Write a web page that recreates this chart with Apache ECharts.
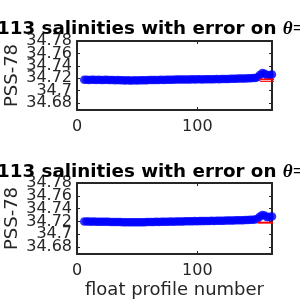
<!DOCTYPE html>
<html><head><meta charset="utf-8">
<script src="https://cdn.jsdelivr.net/npm/echarts@6/dist/echarts.min.js"></script>
<style>html,body{margin:0;padding:0;background:#fff}#c{width:300px;height:300px}</style>
</head><body><div id="c"></div>
<script>
// ---- data ----
var profiles = [6,8,10,12,14,16,18,20,22,24,26,28,30,32,34,36,
  38,40,42,44,46,48,50,52,54,56,58,60,
  62,64,66,68,70,72,74,76,78,80,82,84,86,88,90,
  92,94,96,98,100,102,104,106,108,110,112,114,116,118,120,122,124,126,128,130,
  132,134,136,138,140,142,144,146,148,
  150,152,154,156,158,160,162];
var salTop = [34.7178,34.7176,34.7174,34.7177,34.7175,34.7173,34.7176,34.7174,34.7172,34.7175,34.7173,34.7171,34.7172,34.7170,34.7171,34.7169,
  34.7168,34.7166,34.7167,34.7165,34.7166,34.7168,34.7166,34.7167,34.7169,34.7168,34.7170,34.7171,
  34.7172,34.7173,34.7172,34.7174,34.7175,34.7174,34.7176,34.7177,34.7176,34.7178,34.7179,34.7180,34.7179,34.7181,34.7180,
  34.7182,34.7181,34.7183,34.7182,34.7184,34.7183,34.7182,34.7184,34.7185,34.7184,34.7186,34.7185,34.7187,34.7186,34.7188,34.7189,34.7188,34.7190,34.7191,34.7192,
  34.7194,34.7195,34.7196,34.7197,34.7198,34.7200,34.7201,34.7203,34.7206,
  34.7215,34.7255,34.7285,34.7275,34.7245,34.7255,34.7260];
var salBottom = [34.7199,34.7197,34.7198,34.7196,34.7197,34.7195,34.7196,34.7194,34.7195,34.7193,34.7194,34.7192,34.7191,34.7192,34.7190,34.7189,
  34.7188,34.7187,34.7186,34.7187,34.7185,34.7186,34.7185,34.7187,34.7186,34.7188,34.7189,34.7190,
  34.7191,34.7192,34.7193,34.7192,34.7194,34.7195,34.7194,34.7196,34.7197,34.7196,34.7198,34.7199,34.7198,34.7200,34.7201,
  34.7202,34.7201,34.7203,34.7204,34.7203,34.7205,34.7204,34.7206,34.7207,34.7206,34.7208,34.7207,34.7209,34.7210,34.7209,34.7211,34.7212,34.7213,34.7214,34.7215,
  34.7216,34.7217,34.7218,34.7219,34.7220,34.7222,34.7224,34.7226,34.7229,
  34.7240,34.7275,34.7300,34.7292,34.7265,34.7272,34.7278];
var redXTop = [152, 166];
var redTopA = [34.7185, 34.7185];
var redTopB = [34.7152, 34.7152];
var redXBottom = [150, 166];
var redBottom = [34.7180, 34.7180];
var yTicks = [34.68, 34.70, 34.72, 34.74, 34.76, 34.78];
var yLabelsA = [34.68, 34.72, 34.76];
var yLabelsB = [34.70, 34.74, 34.78];
var xTicks = [0, 100];
var yRange = [34.669, 34.78];
var xRange = [0, 162];
var titleText = '113 salinities with error on ';
var titleTheta = 'θ=';
var yName = 'PSS-78';
var xName = 'float profile number';

function pairs(xs, ys){ return xs.map(function(x,i){return [x, ys[i]];}); }

var AX = '#262626', FF = 'DejaVu Sans';
function xAx(g, pos, labels, name){
  return {type:'value', gridIndex:g, position:pos, min:xRange[0], max:xRange[1],
    axisLine:{show:true, onZero:false, lineStyle:{color:AX, width:2}},
    axisTick:{show:true, inside:true, length:3, customValues:xTicks, lineStyle:{color:AX, width:1}},
    axisLabel:{show:labels, customValues:xTicks, fontSize:16, color:AX, fontFamily:FF, margin:9,
      hideOverlap:false, interval:0, showMinLabel:true, showMaxLabel:true},
    splitLine:{show:false},
    name: name||'', nameLocation:'middle', nameGap:27, nameMoveOverlap:false,
    nameTextStyle:{fontSize:18, color:AX, fontFamily:FF}};
}
function yAx(g, pos, labelVals, name, showLine){
  return {type:'value', gridIndex:g, position:pos, min:yRange[0], max:yRange[1],
    axisLine:{show:showLine, onZero:false, lineStyle:{color:AX, width:2}},
    axisTick:{show:showLine, inside:true, length:3, customValues:yTicks, lineStyle:{color:AX, width:1}},
    axisLabel:{show:!!labelVals, customValues:labelVals||yTicks, fontSize:16, color:AX, fontFamily:FF, margin:5,
      hideOverlap:false, interval:0, showMinLabel:true, showMaxLabel:true,
      formatter:function(v){return String(+(+v).toFixed(2));}},
    splitLine:{show:false},
    name: name||'', nameLocation:'middle', nameGap:56, nameRotate:90, nameMoveOverlap:false,
    nameTextStyle:{fontSize:18, color:AX, fontFamily:FF}};
}
var titleStyle = {rich:{b:{fontSize:18.3, fontWeight:'bold', fontFamily:FF, color:'#000'},
  t:{fontSize:19, fontStyle:'italic', fontFamily:'Liberation Serif', color:'#000'}}};

var chart = echarts.init(document.getElementById('c'), null, {renderer:'canvas'});
chart.setOption({
  animation:false,
  title:[
    {text:'{b|'+titleText+'}{t|'+titleTheta+'}', left:-3, top:20, padding:0, textStyle:titleStyle},
    {text:'{b|'+titleText+'}{t|'+titleTheta+'}', left:-3, top:163, padding:0, textStyle:titleStyle}
  ],
  grid:[
    {left:77, top:41, width:195, height:69, outerBoundsMode:'none', containLabel:false},
    {left:77, top:183, width:195, height:71, outerBoundsMode:'none', containLabel:false}
  ],
  xAxis:[xAx(0,'bottom',true), xAx(0,'top',false), xAx(1,'bottom',true,xName), xAx(1,'top',false)],
  yAxis:[
    yAx(0,'left',yLabelsA,yName,true), yAx(0,'right',null,'',true), yAx(0,'left',yLabelsB,'',false),
    yAx(1,'left',yLabelsA,yName,true), yAx(1,'right',null,'',true), yAx(1,'left',yLabelsB,'',false)
  ],
  series:[
    {type:'scatter', xAxisIndex:0, yAxisIndex:0, data:pairs(profiles, salTop), symbolSize:8.5, clip:false,
      itemStyle:{color:'#0000ff'}},
    {type:'line', xAxisIndex:0, yAxisIndex:0, data:pairs(redXTop, redTopA), showSymbol:false, clip:false,
      lineStyle:{color:'#ff0000', width:1.5}, z:3},
    {type:'line', xAxisIndex:0, yAxisIndex:0, data:pairs(redXTop, redTopB), showSymbol:false, clip:false,
      lineStyle:{color:'#ff0000', width:1.2}, z:3},
    {type:'scatter', xAxisIndex:2, yAxisIndex:3, data:pairs(profiles, salBottom), symbolSize:8.5, clip:false,
      itemStyle:{color:'#0000ff'}},
    {type:'line', xAxisIndex:2, yAxisIndex:3, data:pairs(redXBottom, redBottom), showSymbol:false, clip:false,
      lineStyle:{color:'#ff0000', width:2}, z:3}
  ]
});
</script></body></html>
